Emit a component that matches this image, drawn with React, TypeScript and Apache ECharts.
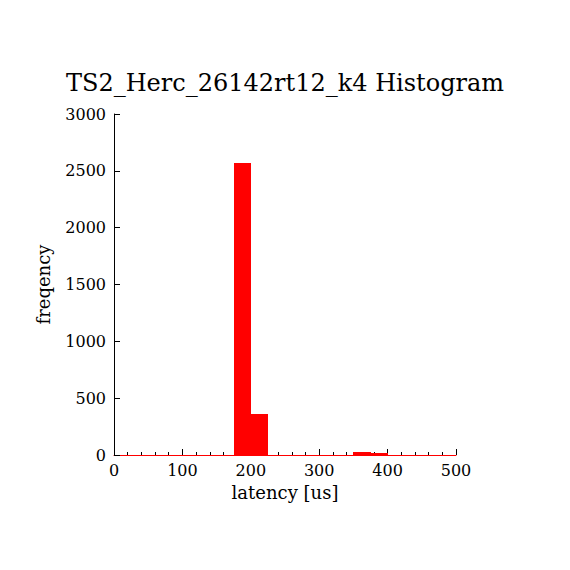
import React, { useEffect, useRef } from "react";
import * as echarts from "echarts";

const titleText = "TS2_Herc_26142rt12_k4 Histogram";
const binStarts = [175, 200, 350, 375];
const binWidth = 25;
const counts = [2570, 360, 25, 15];
const xTicks = [0, 100, 200, 300, 400, 500];
const yTicks = [0, 500, 1000, 1500, 2000, 2500, 3000];

const FONT = "DejaVu Serif";

export default function App() {
  const ref = useRef<HTMLDivElement>(null);
  useEffect(() => {
    if (!ref.current) return;
    const chart = echarts.init(ref.current, null, { renderer: "svg" });
    const data = binStarts.map((s, i) => [s, s + binWidth, counts[i]]);
    chart.setOption({
      animation: false,
      backgroundColor: "#ffffff",
      title: {
        text: titleText,
        left: "center",
        top: 66,
        textStyle: { fontFamily: FONT, fontSize: 24, fontWeight: "normal", color: "#000" },
      },
      grid: { left: 114, right: 114, top: 114, bottom: 115, containLabel: false },
      xAxis: {
        type: "value",
        min: xTicks[0],
        max: xTicks[xTicks.length - 1],
        interval: 100,
        name: "latency [us]",
        nameLocation: "middle",
        nameGap: 28,
        nameTextStyle: { fontFamily: FONT, fontSize: 18, color: "#000" },
        axisLine: { show: true, onZero: false, lineStyle: { color: "#ff0000", width: 1 } },
        axisTick: { show: true, inside: true, length: 6, lineStyle: { color: "#000" } },
        minorTick: { show: true, splitNumber: 5, length: 3, lineStyle: { color: "#000" } },
        axisLabel: { fontFamily: FONT, fontSize: 16, color: "#000", margin: 7, formatter: (v: number) => String(v) },
        splitLine: { show: false },
      },
      yAxis: {
        type: "value",
        min: yTicks[0],
        max: yTicks[yTicks.length - 1],
        interval: 500,
        name: "freqency",
        nameLocation: "middle",
        nameGap: 62,
        nameTextStyle: { fontFamily: FONT, fontSize: 18, color: "#000" },
        axisLine: { show: true, lineStyle: { color: "#000", width: 1 } },
        axisTick: { show: true, inside: true, length: 6, lineStyle: { color: "#000" } },
        axisLabel: { fontFamily: FONT, fontSize: 16, color: "#000", margin: 8, formatter: (v: number) => String(v) },
        splitLine: { show: false },
      },
      series: [
        {
          type: "custom",
          data,
          encode: { x: [0, 1], y: 2 },
          renderItem: (params: any, api: any) => {
            const x0 = api.value(0);
            const x1 = api.value(1);
            const y = api.value(2);
            const p0 = api.coord([x0, y]);
            const p1 = api.coord([x1, 0]);
            const left = Math.round(p0[0]);
            const right = Math.round(p1[0]);
            const top = Math.round(p0[1]);
            const bottom = Math.round(p1[1]);
            return {
              type: "rect",
              shape: { x: left, y: top, width: right - left, height: bottom - top },
              style: { fill: "#ff0000" },
            };
          },
        },
      ],
    });
    return () => chart.dispose();
  }, []);
  return <div ref={ref} style={{ width: 570, height: 570, position: "absolute", left: 0, top: 0 }} />;
}
